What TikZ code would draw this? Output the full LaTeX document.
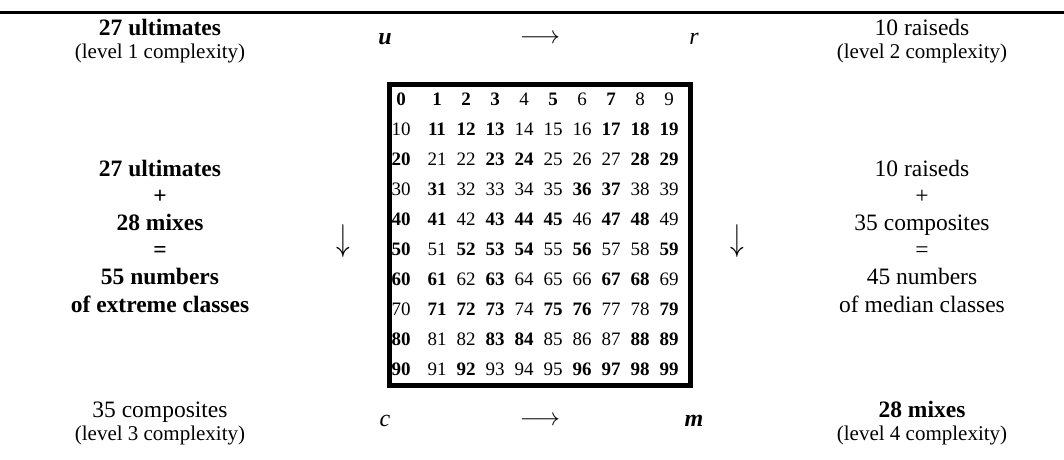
\documentclass[tikz,border=0pt]{standalone}
\usepackage{fontspec}
\usepackage{graphicx}
\setmainfont{Liberation Serif}
\makeatletter
\def\extremes{,0,1,2,3,5,7,11,12,13,17,18,19,20,23,24,28,29,31,36,37,40,41,43,44,45,47,48,50,52,53,54,56,59,60,61,63,67,68,71,72,73,75,76,79,80,83,84,88,89,90,92,96,97,98,99,}
\newcommand\cellnum[1]{\edef\cell@test{\noexpand\in@{,#1,}{\extremes}}\cell@test\ifin@\textbf{#1}\else#1\fi}
\makeatother
\newcommand\lvl[1]{{\fontsize{21}{23}\selectfont(level #1 complexity)}}
\tikzset{
  num/.style={inner sep=0pt, font=\fontsize{19}{21}\selectfont},
  grid/.style={draw, line width=5pt, minimum width=301pt, minimum height=301.5pt, inner sep=0pt},
  head/.style={align=center, inner sep=0pt, font=\fontsize{23.5}{23}\selectfont},
  tally/.style={align=center, inner sep=0pt, font=\fontsize{23.5}{27.2}\selectfont},
  sym/.style={inner sep=0pt, font=\fontsize{24}{26}\selectfont},
}

\begin{document}
\begin{tikzpicture}[x=1pt,y=-1pt]
  \useasboundingbox (0,0) rectangle (1064,459);
  \draw[line width=2.5pt] (0,12.5) -- (1064,12.5);
  \node[head] (ult) at (160,41.5) {\textbf{27 ultimates}\\\lvl{1}};
  \node[head] (rai) at (922,41.5) {10 raiseds\\\lvl{2}};
  \node[head] (com) at (160,423) {35 composites\\\lvl{3}};
  \node[head] (mix) at (922,423) {\textbf{28 mixes}\\\lvl{4}};
  \node[sym] (u) at (385,39) {\textbf{\textit{u}}};
  \node[sym] (r) at (694,39) {\textit{r}};
  \node[sym] (c) at (385,421) {\textit{c}};
  \node[sym] (m) at (694,421) {\textbf{\textit{m}}};
  \node[sym] (top) at (540,39) {$\longrightarrow$};
  \node[sym] (bot) at (540,421) {$\longrightarrow$};
  \node[sym] (left) at (343,241) {\scalebox{1.1}[1.5]{$\downarrow$}};
  \node[sym] (right) at (737,241) {\scalebox{1.1}[1.5]{$\downarrow$}};
  \node[tally] (ext) at (160,236) {\textbf{27 ultimates}\\\textbf{+}\\\textbf{28 mixes}\\\textbf{=}\\\textbf{55 numbers}\\\textbf{of extreme classes}};
  \node[tally] (med) at (922,236) {10 raiseds\\+\\35 composites\\=\\45 numbers\\of median classes};
  \node[grid] (box) at (540,234.75) {};
  \foreach \r in {0,...,9}
    \foreach \c in {0,...,9} {
      \pgfmathtruncatemacro\num{10*\r+\c}
      \pgfmathsetmacro\xc{\c==0 ? 401 : 437+29*(\c-1)}
      \node[num] (n\num) at (\xc,99+30*\r) {\cellnum{\num}};
    }
\end{tikzpicture}
\end{document}
